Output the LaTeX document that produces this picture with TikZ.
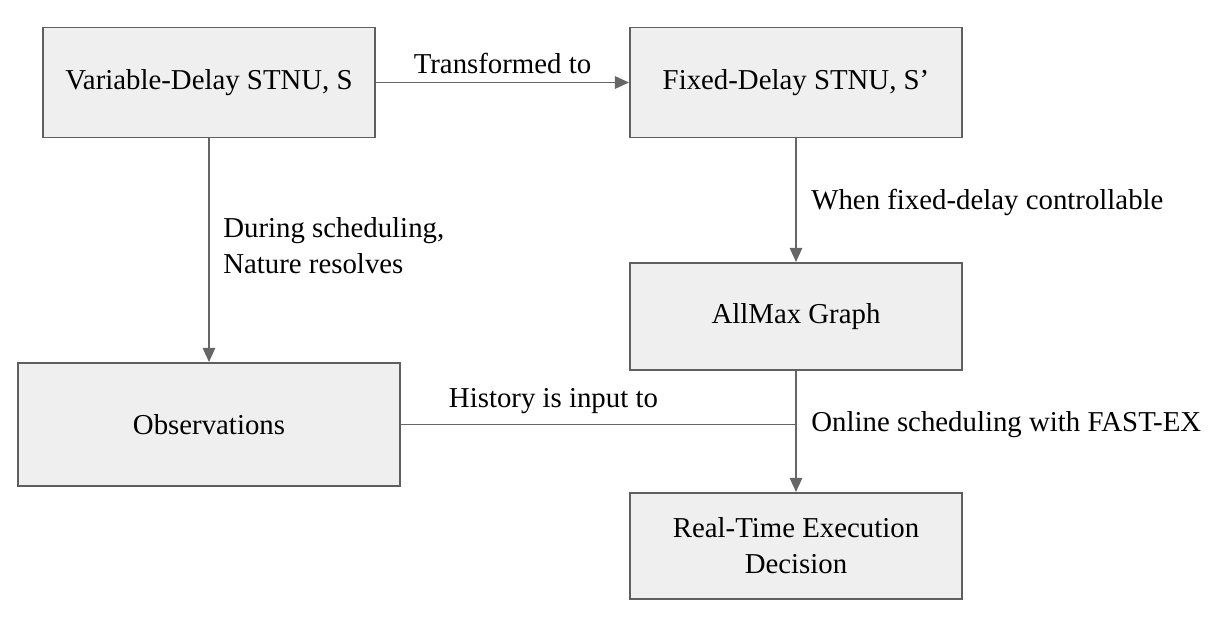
\documentclass[tikz,border=0pt]{standalone}
\usepackage{fontspec}
\setmainfont{Liberation Serif}
\usetikzlibrary{arrows.meta}
\definecolor{boxfill}{HTML}{EFEFEF}
\definecolor{boxline}{HTML}{5F5F5F}
\definecolor{arrowline}{HTML}{666666}
\tikzset{
	stnubox/.style={draw=boxline, fill=boxfill, line width=1.1pt, minimum width=6.64cm, minimum height=2.2cm, align=center, inner sep=0pt},
	flow/.style={draw=arrowline, line width=1.1pt, -{Triangle[length=8pt, width=7pt]}},
	lbl/.style={align=left, inner sep=0pt}
}

\begin{document}
\begin{tikzpicture}[font=\fontsize{16.4}{20.5}\selectfont]
		%%%%% START %%%%%
		\useasboundingbox (0, 0) rectangle (24.5, -12.54);
		
		\node[stnubox] (var) at (4.18, -1.65) {Variable-Delay STNU, S};
		\node[stnubox] (fix) at (15.92, -1.65) {Fixed-Delay STNU, S’};
		\node[stnubox, minimum height=2.14cm] (allmax) at (15.92, -6.33) {AllMax Graph};
		\node[stnubox, minimum width=7.64cm, minimum height=2.46cm] (obs) at (4.18, -8.49) {Observations};
		\node[stnubox, minimum height=2.12cm] (exec) at (15.92, -10.92) {Real-Time Execution\\Decision};
		
		\coordinate (join) at (15.92, -8.49);
		
		\draw[flow] (var) -- node[above=1pt] {Transformed to} (fix);
		\draw[flow] (var) -- (obs);
		\draw[flow] (fix) -- (allmax);
		\draw[flow] (allmax) -- (exec);
		\draw[draw=arrowline, line width=1.1pt] (obs) -- node[above=2pt, pos=0.386] {History is input to} (join);
		
		\node[lbl, anchor=west] (during) at (4.46, -4.92) {During scheduling,\\Nature resolves};
		\node[lbl, anchor=west] (when) at (16.22, -4.04) {When fixed-delay controllable};
		\node[lbl, anchor=west] (online) at (16.22, -8.5) {Online scheduling with FAST-EX};
		%%%%% END %%%%%
	\end{tikzpicture}
\end{document}
